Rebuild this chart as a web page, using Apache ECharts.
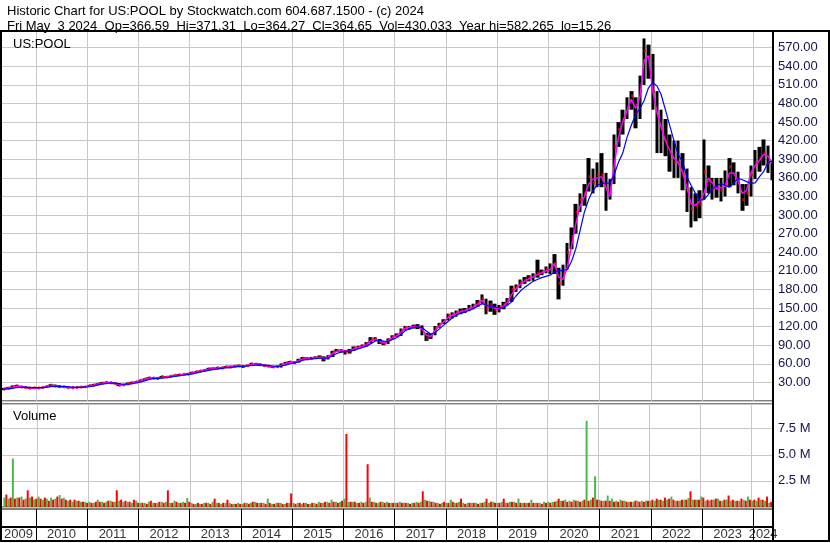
<!DOCTYPE html>
<html>
<head>
<meta charset="utf-8">
<title>US:POOL historic chart</title>
<script src="https://cdn.jsdelivr.net/npm/echarts@6/dist/echarts.min.js"></script>
<style>
  html, body { margin: 0; padding: 0; background: #fff; }
  #chart { width: 830px; height: 543px; }
</style>
</head>
<body>
<div id="chart"></div>
<script>
// one sample per month, May 2009 .. May 2024
const firstYear = 2009;
const firstMonth = 5;

const closes = [
  19.5, 21, 23.5, 24.5, 22.5, 21.5, 20.5, 21.5,
  21, 22, 23.5, 25.5, 24, 23, 23, 21.5, 21.5, 22, 22.5, 23,
  25, 26, 27.5, 29, 30, 29.5, 28, 25.5, 26, 28.5, 30, 31,
  33.5, 35.5, 37.5, 37, 36.5, 39.5, 38.5, 40, 41.5, 42.5, 43, 43.5,
  46, 47.5, 48.5, 49.5, 52, 52.5, 53.5, 53.5, 55.5, 55, 56, 57,
  56, 57, 60, 59.5, 58.5, 57, 56, 55, 55.5, 59, 61.5, 63,
  62, 66, 69, 68, 69, 70, 70.5, 68.5, 72, 79, 81.5, 81,
  80, 81, 86, 87, 89, 93, 100, 100.5, 95, 93, 99, 104,
  106, 114, 119, 118, 121, 120, 115, 101, 106, 118, 124, 130,
  138, 140, 143, 145, 146, 150, 153, 158, 166, 148, 156, 148,
  150, 156, 162, 180, 183, 191, 195, 199, 201, 206, 208, 212,
  214, 222, 190, 205, 240, 265, 305, 325, 335, 362, 352, 365,
  365, 342, 345, 410, 438, 455, 475, 492, 465, 500, 565, 555,
  500, 460, 440, 420, 400, 385, 385, 365, 340, 310, 315, 318,
  370, 355, 342, 345, 340, 350, 378, 365, 352, 325, 335, 365,
  385, 392, 400, 385, 365
];
const highs = [
  21, 22.5, 25, 26, 24.5, 23, 22, 22.5,
  22.5, 23, 24.5, 27, 26.5, 25, 24, 23.5, 22.5, 23, 23.5, 24,
  26, 27.5, 28.5, 30.5, 31.5, 31, 30, 28.5, 27.5, 29.5, 31, 32,
  34.5, 36.5, 38.5, 38.5, 38, 40.5, 40, 41, 42.5, 43.5, 44, 45,
  47, 48.5, 49.5, 51, 53.5, 54, 55, 55, 56.5, 57, 57.5, 58.5,
  58, 58.5, 61.5, 61, 60.5, 59, 58, 56.5, 57, 60.5, 63, 64.5,
  64, 68, 71, 70.5, 71, 72, 73.5, 72, 74, 81, 84, 83.5,
  82.5, 84, 88, 89, 91, 95, 103, 103, 100, 96, 101, 106,
  109, 117, 121, 121, 123, 124, 122, 110, 109, 121, 126, 132,
  141, 143, 146, 149, 150, 155, 157, 163, 172, 165, 162, 157,
  155, 160, 166, 186, 188, 196, 200, 203, 206, 228, 212, 217,
  222, 237, 215, 220, 255, 280, 318, 335, 350, 392, 375, 385,
  400, 368, 358, 430, 450, 470, 490, 500, 490, 525, 585, 575,
  560, 500, 470, 455, 430, 420, 420, 400, 375, 345, 335, 340,
  422, 380, 360, 360, 360, 372, 392, 385, 370, 350, 350, 380,
  405, 410, 422, 412, 385
];
const lows = [
  17.5, 19, 21, 22.5, 21.5, 20.5, 19.5, 20,
  20, 20.5, 22, 23.5, 22.5, 21.5, 21.5, 20.5, 20.5, 21, 21.5, 22,
  23.5, 25, 26.5, 27.5, 29, 28.5, 27, 24, 24.5, 25.5, 28.5, 29.5,
  31.5, 34, 36, 36, 35, 36.5, 37.5, 38.5, 40, 41, 41.5, 42,
  44, 46, 47, 47.5, 49.5, 50.5, 52, 51.5, 53.5, 53, 54.5, 55.5,
  53.5, 55, 57, 57.5, 56.5, 55.5, 54.5, 53.5, 54, 54, 59, 60.5,
  60, 62, 66, 66, 67, 68, 68.5, 64, 67, 71, 79, 78,
  75, 76.5, 81, 84.5, 86, 88, 93, 97, 92, 90, 92, 99,
  103, 105, 114, 115, 117, 116, 106, 97, 100, 106, 118, 124,
  130, 133, 136, 140, 142, 145, 148, 152, 157, 140, 144, 139,
  143, 148, 155, 160, 176, 182, 189, 193, 194, 199, 203, 206,
  205, 205, 164, 186, 212, 245, 270, 305, 315, 338, 335, 345,
  345, 307, 325, 350, 410, 430, 455, 470, 440, 455, 510, 520,
  470, 400, 400, 395, 370, 360, 360, 340, 305, 280, 290, 295,
  325, 335, 325, 328, 322, 330, 345, 348, 335, 307, 315, 330,
  358, 370, 380, 368, 356
];
// short average (magenta) and long average (blue)
const avgShort = [
  20, 20.5, 22, 23.5, 23.5, 22.5, 21.5, 21,
  21, 21.5, 22.5, 24, 24.5, 23.5, 23, 22.5, 21.5, 21.5, 22, 22.5,
  24, 25.5, 26.5, 28, 29.5, 29.5, 28.5, 27, 26, 27, 28.5, 30,
  32, 34, 36.5, 37, 36.5, 38, 38.5, 39, 40.5, 41.5, 42.5, 43,
  45, 46.5, 48, 49, 51, 52, 53, 53.5, 54.5, 55, 55.5, 56.5,
  56.5, 56.5, 58.5, 59.5, 59, 57.5, 56.5, 55.5, 55.5, 57.5, 60, 62,
  62, 64.5, 67.5, 68, 68.5, 69.5, 70, 69, 70.5, 76, 80, 81,
  80.5, 80, 84, 86.5, 88, 91, 97, 99.5, 97, 94, 96.5, 102,
  105, 111, 117, 118.5, 120, 120, 117, 106, 104, 113, 121, 127,
  134, 138, 141, 144, 145.5, 148.5, 151.5, 156, 162, 154, 152, 150,
  149, 153, 159, 172, 181, 188, 193, 197, 200, 204, 207, 210,
  212, 222, 200, 196, 215, 250, 285, 315, 330, 350, 358, 360,
  362, 345, 330, 380, 425, 450, 468, 487, 472, 490, 550, 557,
  500, 465, 443, 420, 405, 392, 384, 370, 345, 318, 316, 322,
  335, 360, 352, 342, 344, 346, 368, 368, 355, 335, 340, 368,
  380, 388, 398, 395, 384
];
const avgLong = [
  19, 19.5, 20.5, 21.5, 22, 22.5, 22, 21.5,
  21.5, 21.5, 22, 23, 23.5, 24, 23.5, 23, 22.5, 22, 22, 22.5,
  23, 24, 25.5, 27, 28, 29, 29, 28, 27, 27, 27.5, 29,
  30.5, 32.5, 34.5, 36, 36.5, 37, 37.5, 38.5, 39.5, 40.5, 41.5, 42.5,
  43.5, 45, 46.5, 48, 49.5, 50.5, 51.5, 52.5, 53.5, 54, 55, 55.5,
  56, 56.5, 57.5, 58, 58.5, 58, 57.5, 56.5, 56, 56.5, 58, 60,
  61, 63, 65.5, 67, 68, 68.5, 69, 69, 69.5, 72.5, 76.5, 79,
  80, 80, 81.5, 84, 86, 88.5, 92.5, 96.5, 98, 96.5, 96, 99,
  102, 107, 113, 116.5, 118.5, 119.5, 118.5, 113, 108, 110, 116, 122,
  128, 134, 138, 141.5, 143.5, 146, 149, 152.5, 157, 155, 152, 152,
  150, 151, 154, 160, 169, 177, 183, 188, 193, 196, 199, 201,
  203, 208, 210, 211, 212, 225, 245, 275, 305, 325, 340, 348,
  351, 351, 352, 365, 385, 400, 425, 445, 462, 472, 485, 505,
  514, 508, 495, 470, 445, 420, 398, 386, 362, 348, 335, 324,
  325, 333, 343, 347, 351, 348, 345, 352, 359, 357, 354, 351,
  352, 362, 370, 385, 387
];
// biggest up-day and down-day volume of each month, millions
const volUp = [
  0.9, 0.8, 4.65, 0.9, 1.0, 0.8, 0.9, 0.7,
  1.0, 0.7, 0.8, 0.9, 0.8, 1.15, 0.9, 0.6, 0.5, 0.6, 0.5, 0.5,
  0.5, 0.4, 0.7, 0.5, 0.5, 0.6, 0.5, 0.6, 0.5, 0.5, 0.4, 0.6,
  0.4, 0.4, 0.5, 0.4, 0.4, 0.5, 0.5, 0.4, 0.6, 0.4, 0.5, 0.85,
  0.4, 0.3, 0.3, 0.4, 0.4, 0.5, 0.4, 0.3, 0.4, 0.4, 0.3, 0.4,
  0.3, 0.4, 0.4, 0.5, 0.4, 0.4, 0.8, 0.3, 0.4, 0.4, 0.3, 0.4,
  0.4, 0.4, 0.3, 0.4, 0.3, 0.4, 0.5, 0.4, 0.5, 0.7, 0.5, 0.5,
  0.8, 0.5, 0.5, 0.4, 0.5, 0.5, 0.9, 0.5, 0.4, 0.5, 0.5, 0.4,
  0.4, 0.5, 0.4, 0.4, 0.4, 0.5, 0.5, 0.7, 0.6, 0.5, 0.4, 0.4,
  0.4, 0.7, 0.4, 0.5, 0.4, 0.4, 0.4, 0.4, 0.4, 0.5, 0.4, 0.5,
  0.4, 0.5, 0.4, 0.5, 0.5, 0.8, 0.4, 0.4, 0.7, 0.4, 0.4, 0.5,
  0.5, 0.5, 0.6, 0.6, 0.7, 0.6, 0.7, 0.6, 0.6, 8.25, 0.7, 2.95,
  0.7, 0.6, 1.1, 0.8, 0.6, 0.7, 0.6, 0.5, 0.5, 0.6, 0.6, 0.6,
  0.6, 0.6, 0.7, 0.6, 0.7, 1.0, 0.6, 0.6, 0.7, 0.85, 0.7, 0.7,
  1.0, 0.6, 0.6, 0.7, 0.8, 0.6, 0.7, 0.6, 0.6, 0.6, 0.7, 1.0,
  0.6, 0.6, 0.7, 0.6, 0.4
];
const volDown = [
  1.2, 0.9, 0.8, 0.9, 0.7, 1.6, 1.0, 0.8,
  0.8, 0.9, 0.6, 0.7, 1.0, 0.8, 0.7, 0.7, 0.7, 0.6, 0.5, 0.4,
  0.4, 0.5, 0.5, 0.4, 0.6, 0.5, 1.6, 0.7, 0.6, 0.5, 0.7, 0.4,
  0.4, 0.3, 0.6, 0.4, 0.5, 0.4, 1.6, 0.4, 0.5, 0.4, 0.4, 0.5,
  0.3, 0.4, 0.3, 0.4, 0.3, 0.8, 0.4, 0.4, 0.7, 0.3, 0.3, 0.3,
  0.4, 0.3, 0.5, 0.4, 0.4, 0.3, 0.4, 0.3, 0.4, 0.3, 0.4, 1.3,
  0.3, 0.4, 0.4, 0.3, 0.4, 0.3, 0.4, 0.5, 0.4, 0.5, 0.4, 0.6,
  7.0, 0.5, 0.5, 0.4, 0.4, 4.1, 0.5, 0.4, 0.5, 0.4, 0.4, 0.4,
  0.4, 0.4, 0.4, 0.3, 0.4, 0.4, 1.5, 0.6, 0.5, 0.4, 0.3, 0.5,
  0.4, 0.5, 0.4, 0.8, 0.3, 0.4, 0.4, 0.3, 0.4, 0.8, 0.5, 0.4,
  0.4, 0.8, 0.4, 0.5, 0.4, 0.4, 0.4, 0.4, 0.4, 0.4, 0.3, 0.4,
  0.4, 0.5, 0.8, 0.6, 0.5, 0.5, 0.6, 0.5, 0.7, 0.6, 0.9, 0.7,
  0.6, 0.6, 0.6, 0.5, 0.5, 0.6, 0.5, 0.5, 0.6, 0.5, 0.5, 0.6,
  0.7, 0.8, 0.7, 0.9, 0.8, 0.7, 0.6, 0.7, 0.7, 1.5, 0.7, 0.7,
  0.9, 0.7, 0.7, 0.8, 0.6, 0.7, 1.1, 0.7, 0.6, 0.8, 0.6, 0.7,
  0.7, 0.9, 0.7, 1.0, 0.5
];
const yearLabels = ['2009', '2010', '2011', '2012', '2013', '2014', '2015', '2016',
  '2017', '2018', '2019', '2020', '2021', '2022', '2023', '2024'];

const headerText = 'Historic Chart for US:POOL by Stockwatch.com 604.687.1500 - (c) 2024\n' +
  'Fri May  3 2024  Op=366.59  Hi=371.31  Lo=364.27  Cl=364.65  Vol=430,033  Year hi=582.265  lo=15.26';

const axisStart = '2009-04-28';
const axisEnd = '2024-05-21';
const FONT = 'Liberation Sans, Arial, sans-serif';
const YEAR = 365 * 24 * 3600 * 1000;

// month dates for the samples
const months = closes.map((_, i) => {
  const m = firstMonth - 1 + i;
  const y = firstYear + Math.floor(m / 12);
  const mm = String(m % 12 + 1).padStart(2, '0');
  return y + '-' + mm + '-15';
});

// year label sits in the middle of its visible part of the axis
const t0 = +new Date(axisStart), t1 = +new Date(axisEnd);
const yearCenters = yearLabels.map(y => {
  const a = Math.max(t0, +new Date(y + '-01-01'));
  const b = Math.min(t1, +new Date((+y + 1) + '-01-01'));
  return [(a + b) / 2, 0.5, y];
});

const chart = echarts.init(document.getElementById('chart'));

function timeAxis(gridIndex, lineColor) {
  return {
    type: 'time',
    gridIndex: gridIndex,
    min: axisStart,
    max: axisEnd,
    minInterval: YEAR,
    maxInterval: YEAR,
    axisLine: { show: false },
    axisTick: { show: false },
    axisLabel: { show: false },
    splitLine: { show: true, lineStyle: { color: lineColor, width: 1 } }
  };
}

const labelColor = '#14144a';

const option = {
  animation: false,
  backgroundColor: '#fff',
  title: [
    { text: headerText, left: 2, top: -1,
      textStyle: { fontFamily: FONT, fontSize: 13, fontWeight: 'normal', color: '#000', lineHeight: 15 } },
    { text: 'US:POOL', left: 8, top: 33,
      textStyle: { fontFamily: FONT, fontSize: 13, fontWeight: 'normal', color: '#000' } },
    { text: 'Volume', left: 8, top: 405,
      textStyle: { fontFamily: FONT, fontSize: 13, fontWeight: 'normal', color: '#000' } }
  ],
  grid: [
    { left: 1, right: 57, top: 31, height: 370, show: true, borderColor: '#000', borderWidth: 1 },
    { left: 1, right: 57, top: 404, height: 103, show: true, borderColor: '#000', borderWidth: 1 },
    { left: 1, right: 57, top: 509, height: 18, show: true, borderColor: '#000', borderWidth: 1 },
    { left: 1, right: 57, top: 527, height: 14, show: true, borderColor: '#000', borderWidth: 1 }
  ],
  xAxis: [
    timeAxis(0, '#c8c8c8'),
    timeAxis(1, '#c8c8c8'),
    timeAxis(2, '#000'),
    timeAxis(3, '#000')
  ],
  yAxis: [
    {
      gridIndex: 0, type: 'value', position: 'right', min: 0, max: 597, interval: 30,
      axisLine: { show: false }, axisTick: { show: false },
      axisLabel: { margin: 5, showMinLabel: false, showMaxLabel: false, color: labelColor,
        fontFamily: FONT, fontSize: 13, formatter: v => v.toFixed(2) },
      splitLine: { lineStyle: { color: '#c8c8c8' } }
    },
    {
      gridIndex: 1, type: 'value', position: 'right', min: 0, max: 9.87e6, interval: 2.5e6,
      axisLine: { show: false }, axisTick: { show: false },
      axisLabel: { margin: 5, showMinLabel: false, showMaxLabel: false, color: labelColor,
        fontFamily: FONT, fontSize: 13, formatter: v => (v / 1e6).toFixed(1) + ' M' },
      splitLine: { lineStyle: { color: '#c8c8c8' } }
    },
    { gridIndex: 2, type: 'value', min: 0, max: 1, show: false },
    { gridIndex: 3, type: 'value', min: 0, max: 1, show: false }
  ],
  graphic: [
    { type: 'rect', silent: true, z: 100, shape: { x: 1, y: 31, width: 828, height: 510 },
      style: { fill: null, stroke: '#000', lineWidth: 2 } },
    { type: 'line', silent: true, z: 100, shape: { x1: 773, y1: 31, x2: 773, y2: 542 },
      style: { stroke: '#000', lineWidth: 2 } },
    { type: 'line', silent: true, z: 100, shape: { x1: 1, y1: 527, x2: 773, y2: 527 },
      style: { stroke: '#000', lineWidth: 2 } }
  ],
  series: [
    {
      name: 'Range', type: 'candlestick', xAxisIndex: 0, yAxisIndex: 0,
      barWidth: 4,
      encode: { x: 0, y: [1, 2, 3, 4] },
      data: months.map((d, i) => [d, lows[i], highs[i], lows[i], highs[i]]),
      itemStyle: { color: '#000', color0: '#000', borderColor: '#000', borderColor0: '#000', borderWidth: 0 }
    },
    {
      name: 'Close', type: 'scatter', xAxisIndex: 0, yAxisIndex: 0,
      symbol: 'rect', symbolSize: [2, 3], symbolOffset: [1, 0],
      data: months.map((d, i) => [d, closes[i]]),
      itemStyle: { color: '#ff0000' }
    },
    {
      name: 'Avg short', type: 'line', xAxisIndex: 0, yAxisIndex: 0, showSymbol: false,
      data: months.map((d, i) => [d, avgShort[i]]),
      lineStyle: { color: '#ff00ff', width: 1.5 }
    },
    {
      name: 'Avg long', type: 'line', xAxisIndex: 0, yAxisIndex: 0, showSymbol: false,
      data: months.map((d, i) => [d, avgLong[i]]),
      lineStyle: { color: '#0000ff', width: 1.2 }
    },
    {
      name: 'Vol up', type: 'bar', xAxisIndex: 1, yAxisIndex: 1, barWidth: 2, barGap: '0%',
      data: months.map((d, i) => [d, volUp[i] * 1e6]),
      itemStyle: { color: '#4cb84c' }
    },
    {
      name: 'Vol down', type: 'bar', xAxisIndex: 1, yAxisIndex: 1, barWidth: 2, barGap: '0%',
      data: months.map((d, i) => [d, volDown[i] * 1e6]),
      itemStyle: { color: '#ff0000' }
    },
    {
      name: 'Years', type: 'scatter', xAxisIndex: 3, yAxisIndex: 3, symbolSize: 1,
      data: yearCenters,
      itemStyle: { color: 'transparent' },
      label: { show: true, position: 'inside', formatter: p => p.data[2],
        fontFamily: FONT, fontSize: 13, color: '#000' }
    }
  ]
};

chart.setOption(option);
</script>
</body>
</html>
